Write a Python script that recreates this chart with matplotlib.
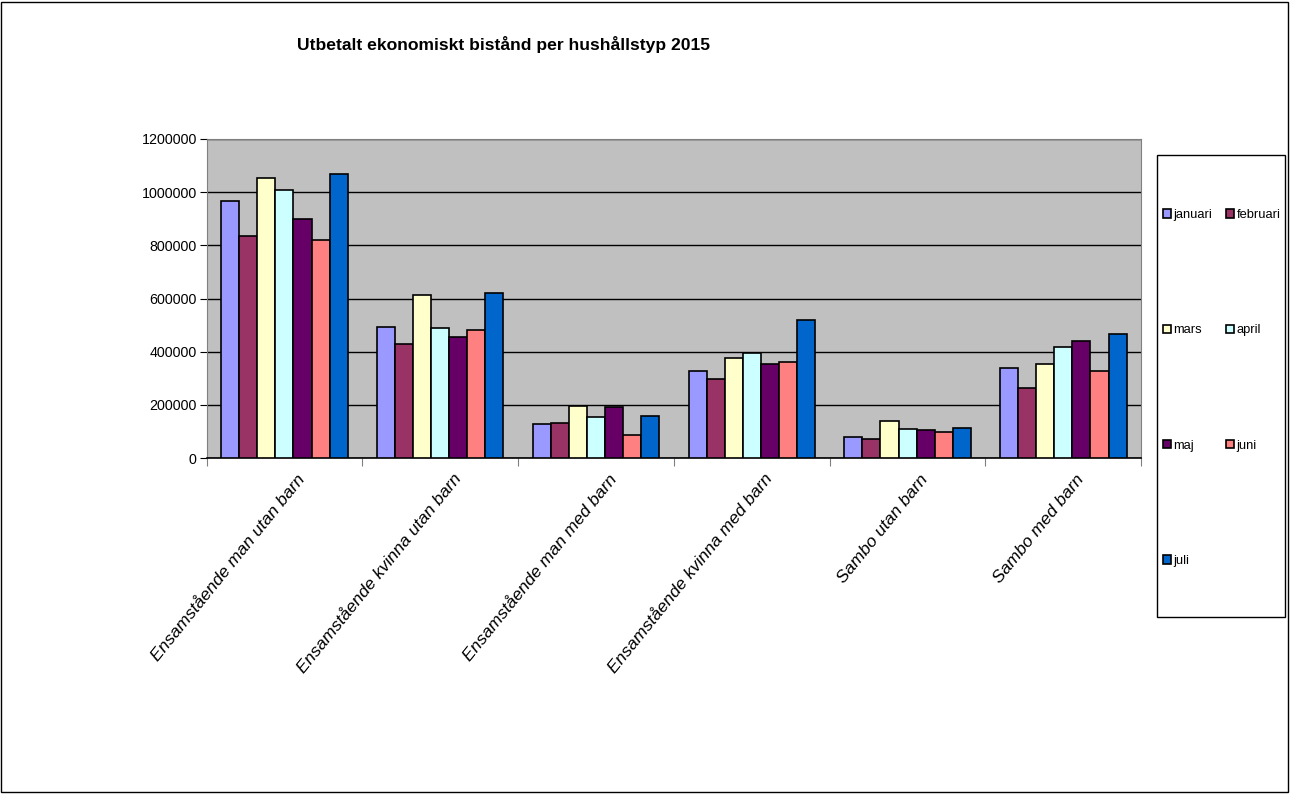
import numpy as np
import matplotlib.pyplot as plt
from matplotlib.patches import Rectangle

plt.rcParams["font.family"] = ["Liberation Sans", "DejaVu Sans"]

categories = ["Ensamstående man utan barn", "Ensamstående kvinna utan barn",
              "Ensamstående man med barn", "Ensamstående kvinna med barn",
              "Sambo utan barn", "Sambo med barn"]
months = ["januari", "februari", "mars", "april", "maj", "juni", "juli"]

januari = [967000, 493000, 128000, 327000, 80000, 339000]
februari = [835000, 429000, 132000, 297000, 72000, 263000]
mars = [1053000, 613000, 196000, 376000, 140000, 355000]
april = [1008000, 489000, 154000, 395000, 110000, 418000]
maj = [899000, 455000, 192000, 354000, 105000, 440000]
juni = [820000, 481000, 87000, 361000, 99000, 328000]
juli = [1068000, 621000, 158000, 519000, 114000, 468000]
series = [januari, februari, mars, april, maj, juni, juli]

colors = ["#9999FF", "#993366", "#FFFFCC", "#CCFFFF", "#660066", "#FF8080", "#0066CC"]

fig = plt.figure(figsize=(12.91, 7.94), dpi=100)
fig.patches.append(Rectangle((0.001, 0.002), 0.997, 0.996, transform=fig.transFigure,
                             fill=False, edgecolor="black", linewidth=1))
ax = fig.add_axes([0.160, 0.423, 0.724, 0.402])
ax.set_facecolor("#C0C0C0")

x = np.arange(len(categories))
w = 0.116
bars = []
for i, (vals, c) in enumerate(zip(series, colors)):
    b = ax.bar(x + (i - 3) * w, vals, w, color=c, edgecolor="black", linewidth=1.2,
               label=months[i], zorder=3)
    bars.append(b)

ax.set_xlim(-0.5, len(categories) - 0.5)
ax.set_ylim(0, 1200000)
ax.set_yticks(np.arange(0, 1200001, 200000))
ax.set_yticklabels([str(v) for v in range(0, 1200001, 200000)], fontsize=10.3)
ax.grid(axis="y", color="black", linewidth=1, zorder=1)
ax.set_xticks(np.arange(-0.5, len(categories), 1))
ax.set_xticklabels([])
ax.tick_params(axis="x", length=6, color="#808080")
ax.tick_params(axis="y", length=5, color="black", pad=2)
for s in ["top", "right", "left"]:
    ax.spines[s].set_color("#808080")
ax.spines["bottom"].set_color("black")
ax.spines["bottom"].set_linewidth(1.2)

for xi, lab in zip(x, categories):
    ax.annotate(lab, xy=(xi, 0), xycoords=("data", "axes fraction"),
                xytext=(13, -13), textcoords="offset points",
                rotation=51, rotation_mode="anchor", ha="right", va="center",
                fontsize=12.6, style="italic")

fig.text(0.390, 0.944, "Utbetalt ekonomiskt bistånd per hushållstyp 2015",
         ha="center", va="center", fontsize=12.6, fontweight="bold")

# legend box (Excel style), entries laid out row-wise in two columns
fig.patches.append(Rectangle((1157 / 1291, 1 - 617 / 794), 128 / 1291, 462 / 794,
                             transform=fig.transFigure, facecolor="white",
                             edgecolor="black", linewidth=1, zorder=1))
order = [0, 2, 4, 6, 1, 3, 5]
leg = fig.legend([bars[k] for k in order], [months[k] for k in order],
                 loc="upper left", bbox_to_anchor=(1163 / 1291, 1 - 209 / 794),
                 ncol=2, fontsize=9.3, frameon=False,
                 handlelength=0.6, handleheight=0.6, handletextpad=0.2,
                 columnspacing=1.1, labelspacing=8.0, borderpad=0,
                 borderaxespad=0)
for h in leg.legend_handles:
    h.set_linewidth(1.2)

fig.savefig("out.png", dpi=100)
